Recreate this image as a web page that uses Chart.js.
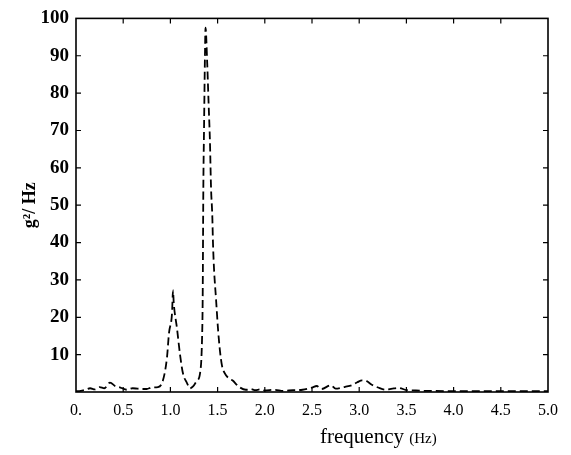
<!DOCTYPE html>
<html>
<head>
<meta charset="utf-8">
<script src="https://cdn.jsdelivr.net/npm/chart.js@4"></script>
<style>
html,body{margin:0;padding:0;background:#fff;}
#wrap{width:571px;height:455px;}
</style>
</head>
<body>
<div id="wrap"><canvas id="c" width="571" height="455"></canvas></div>
<script>
// frequency (Hz)
const freq = [0, 0.05, 0.10, 0.15, 0.20, 0.25, 0.30, 0.36, 0.42, 0.47, 0.54, 0.60, 0.65, 0.70, 0.75, 0.80, 0.869, 0.922, 0.964, 0.985, 1.017, 1.028, 1.035, 1.07, 1.102, 1.133, 1.176, 1.208, 1.24, 1.28, 1.314, 1.335, 1.342, 1.349, 1.356, 1.366, 1.372, 1.39, 1.405, 1.419, 1.430, 1.444, 1.451, 1.462, 1.483, 1.504, 1.525, 1.547, 1.589, 1.63, 1.663, 1.70, 1.737, 1.80, 1.85, 1.90, 1.95, 2.00, 2.10, 2.20, 2.30, 2.40, 2.50, 2.55, 2.60, 2.70, 2.75, 2.85, 2.92, 2.98, 3.03, 3.08, 3.13, 3.20, 3.28, 3.35, 3.42, 3.50, 3.60, 3.70, 3.80, 4.00, 4.20, 4.50, 4.80, 5.00];
// PSD (g^2/Hz)
const psd = [0.2, 0.3, 0.6, 1.0, 0.7, 1.3, 1.0, 2.5, 1.5, 1.2, 0.6, 1.0, 0.9, 0.8, 0.8, 1.2, 1.3, 3.2, 9.3, 15.8, 21, 27.2, 24, 17, 10, 5, 2.4, 1.0, 1.5, 3, 5, 14, 25, 55, 70, 90, 97.5, 88, 77, 67, 55, 47, 40, 33, 25, 17, 11, 7, 4.5, 3.5, 3, 2, 1.2, 0.6, 0.8, 0.5, 0.7, 0.4, 0.6, 0.3, 0.5, 0.6, 1.2, 1.6, 0.8, 1.8, 0.9, 1.4, 1.8, 2.6, 3.1, 2.9, 2.0, 1.2, 0.6, 0.9, 1.1, 0.5, 0.4, 0.3, 0.3, 0.2, 0.2, 0.2, 0.2, 0.2];
const xTicks = [0, 0.5, 1.0, 1.5, 2.0, 2.5, 3.0, 3.5, 4.0, 4.5, 5.0];
const yTicks = [0, 10, 20, 30, 40, 50, 60, 70, 80, 90, 100];

const points = freq.map((f, i) => ({x: f, y: psd[i]}));

const framePlugin = {
  id: 'frame',
  afterDatasetsDraw(chart) {
    const {ctx, chartArea: a, scales: {x, y}} = chart;
    ctx.save();
    ctx.strokeStyle = '#000';
    ctx.lineWidth = 1.6;
    ctx.strokeRect(a.left, a.top, a.right - a.left, a.bottom - a.top);
    ctx.lineWidth = 1.2;
    ctx.beginPath();
    yTicks.forEach(v => {
      if (v === 0 || v === 100) return;
      const py = y.getPixelForValue(v);
      ctx.moveTo(a.left, py); ctx.lineTo(a.left + 5, py);
      ctx.moveTo(a.right, py); ctx.lineTo(a.right - 5, py);
    });
    xTicks.forEach(v => {
      if (v === 0 || v === 5) return;
      const px = x.getPixelForValue(v);
      ctx.moveTo(px, a.bottom); ctx.lineTo(px, a.bottom - 5);
      ctx.moveTo(px, a.top); ctx.lineTo(px, a.top + 5);
    });
    ctx.stroke();
    // x axis title
    ctx.fillStyle = '#000';
    ctx.textBaseline = 'alphabetic';
    ctx.textAlign = 'left';
    ctx.font = '21px "Liberation Serif"';
    const t1 = 'frequency ';
    const x0 = 320, y0 = 443;
    ctx.fillText(t1, x0, y0);
    const w1 = ctx.measureText(t1).width;
    ctx.font = '15px "Liberation Serif"';
    ctx.fillText('(Hz)', x0 + w1, y0);
    ctx.restore();
  }
};

new Chart(document.getElementById('c'), {
  type: 'line',
  data: {
    datasets: [{
      data: points,
      borderColor: '#000',
      borderWidth: 1.8,
      borderDash: [8, 4],
      pointRadius: 0,
      fill: false,
      cubicInterpolationMode: 'monotone'
    }]
  },
  options: {
    responsive: false,
    animation: false,
    events: [],
    layout: {padding: {left: 0, right: 23, top: 16, bottom: 0}, autoPadding: false},
    plugins: {legend: {display: false}, tooltip: {enabled: false}},
    scales: {
      x: {
        type: 'linear', min: 0, max: 5,
        afterFit(s) { s.height = 63; },
        afterBuildTicks(s) { s.ticks = xTicks.map(v => ({value: v})); },
        grid: {display: false, drawTicks: false},
        border: {display: false},
        ticks: {
          padding: 9, color: '#000', maxRotation: 0, autoSkip: false,
          font: {family: '"Liberation Serif"', size: 16},
          callback: v => v === 0 ? '0.' : v.toFixed(1)
        }
      },
      y: {
        type: 'linear', min: 0, max: 100,
        afterFit(s) { s.width = 76; },
        afterBuildTicks(s) { s.ticks = yTicks.map(v => ({value: v})); },
        grid: {display: false, drawTicks: false},
        border: {display: false},
        title: {display: true, text: 'g²/ Hz', color: '#000', padding: {top: 20, bottom: 0},
                font: {family: '"Liberation Serif"', size: 18, weight: 'bold'}},
        ticks: {
          padding: 7, color: '#000', autoSkip: false,
          font: {family: '"Liberation Serif"', size: 19, weight: 'bold'},
          callback: v => v === 0 ? '' : String(v)
        }
      }
    }
  },
  plugins: [framePlugin]
});
</script>
</body>
</html>
